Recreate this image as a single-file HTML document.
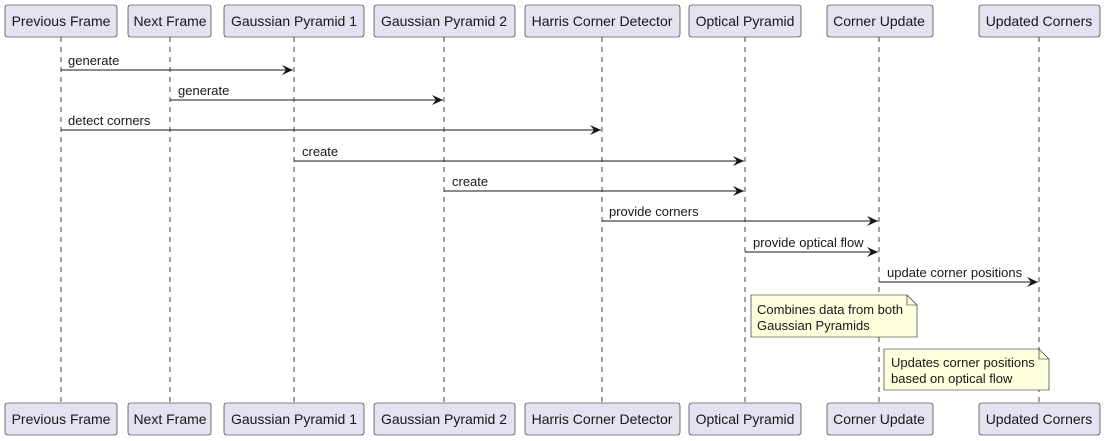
<!DOCTYPE html>
<html><head><style>body{margin:0;background:#fff}svg{display:block}</style></head><body>
<svg width="1105" height="441" viewBox="0 0 1105 441" xmlns="http://www.w3.org/2000/svg" font-family="Liberation Sans, sans-serif" font-size="14">
<defs><marker id="a" markerWidth="12" markerHeight="10" refX="11" refY="5" orient="auto" markerUnits="userSpaceOnUse"><path d="M0,0 L11,5 L0,10 L4,5 Z" fill="#181818"/></marker></defs>
<g stroke="#181818" stroke-width="0.8" stroke-dasharray="5,5">
<line x1="61" y1="37" x2="61" y2="403"/><line x1="170" y1="37" x2="170" y2="403"/><line x1="294" y1="37" x2="294" y2="403"/><line x1="444" y1="37" x2="444" y2="403"/><line x1="602" y1="37" x2="602" y2="403"/><line x1="745" y1="37" x2="745" y2="403"/><line x1="879" y1="37" x2="879" y2="403"/><line x1="1039" y1="37" x2="1039" y2="403"/>
</g>
<g fill="#E2E2F0" stroke="#181818" stroke-width="0.6">
<rect x="5" y="5" width="112" height="32" rx="2.5"/><rect x="128" y="5" width="83" height="32" rx="2.5"/><rect x="224" y="5" width="140" height="32" rx="2.5"/><rect x="374" y="5" width="141" height="32" rx="2.5"/><rect x="525" y="5" width="155" height="32" rx="2.5"/><rect x="689" y="5" width="112" height="32" rx="2.5"/><rect x="827" y="5" width="106" height="32" rx="2.5"/><rect x="979" y="5" width="121" height="32" rx="2.5"/>
<rect x="5" y="403" width="112" height="32" rx="2.5"/><rect x="128" y="403" width="83" height="32" rx="2.5"/><rect x="224" y="403" width="140" height="32" rx="2.5"/><rect x="374" y="403" width="141" height="32" rx="2.5"/><rect x="525" y="403" width="155" height="32" rx="2.5"/><rect x="689" y="403" width="112" height="32" rx="2.5"/><rect x="827" y="403" width="106" height="32" rx="2.5"/><rect x="979" y="403" width="121" height="32" rx="2.5"/>
</g>
<g fill="#181818" text-anchor="middle">
<text x="61" y="26">Previous Frame</text><text x="170" y="26">Next Frame</text><text x="294" y="26">Gaussian Pyramid 1</text><text x="444" y="26">Gaussian Pyramid 2</text><text x="602" y="26">Harris Corner Detector</text><text x="745" y="26">Optical Pyramid</text><text x="879" y="26">Corner Update</text><text x="1039" y="26">Updated Corners</text>
<text x="61" y="424">Previous Frame</text><text x="170" y="424">Next Frame</text><text x="294" y="424">Gaussian Pyramid 1</text><text x="444" y="424">Gaussian Pyramid 2</text><text x="602" y="424">Harris Corner Detector</text><text x="745" y="424">Optical Pyramid</text><text x="879" y="424">Corner Update</text><text x="1039" y="424">Updated Corners</text>
</g>
<g stroke="#181818" stroke-width="1" marker-end="url(#a)">
<line x1="61" y1="70" x2="293" y2="70"/><line x1="170" y1="100" x2="443" y2="100"/><line x1="61" y1="130" x2="601" y2="130"/><line x1="294" y1="161" x2="744" y2="161"/><line x1="444" y1="191" x2="744" y2="191"/><line x1="602" y1="221" x2="878" y2="221"/><line x1="745" y1="252" x2="878" y2="252"/><line x1="879" y1="282" x2="1038" y2="282"/>
</g>
<g fill="#181818" font-size="13">
<text x="68" y="65">generate</text><text x="178" y="95">generate</text><text x="68" y="125">detect corners</text><text x="302" y="156">create</text><text x="452" y="186">create</text><text x="609" y="216">provide corners</text><text x="753" y="247">provide optical flow</text><text x="887" y="277">update corner positions</text>
</g>
<g fill="#FEFFDD" stroke="#181818" stroke-width="0.6">
<path d="M751,295 H907 L917,305 V337 H751 Z"/><path d="M907,295 V305 H917" fill="none"/>
<path d="M884,349 H1039 L1049,359 V390 H884 Z"/><path d="M1039,349 V359 H1049" fill="none"/>
</g>
<g fill="#181818" font-size="13">
<text x="757" y="314">Combines data from both</text><text x="757" y="330">Gaussian Pyramids</text>
<text x="891" y="367">Updates corner positions</text><text x="891" y="383">based on optical flow</text>
</g>
</svg>
</body></html>
